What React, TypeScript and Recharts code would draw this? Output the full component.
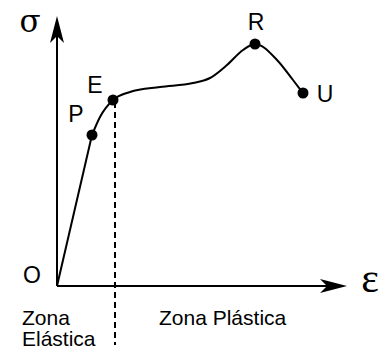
import React from 'react';
import {
  ComposedChart,
  Line,
  Scatter,
  XAxis,
  YAxis,
  ReferenceLine,
  ReferenceDot,
} from 'recharts';

// stress–strain curve, arbitrary units
const elasticSegment = [
  { strain: 0, stress: 0 },
  { strain: 3.5, stress: 15.1 },
];

const plasticSegment = [
  { strain: 3.5, stress: 15.1 },
  { strain: 4.3, stress: 16.9 },
  { strain: 5.6, stress: 18.6 },
  { strain: 7.3, stress: 19.4 },
  { strain: 10.3, stress: 19.9 },
  { strain: 13.6, stress: 20.3 },
  { strain: 15.3, stress: 20.8 },
  { strain: 17.0, stress: 22.1 },
  { strain: 18.6, stress: 23.6 },
  { strain: 19.8, stress: 24.2 },
  { strain: 22.0, stress: 22.6 },
  { strain: 23.6, stress: 20.6 },
  { strain: 24.6, stress: 19.3 },
];

const markers = [
  { name: 'P', strain: 3.5, stress: 15.1 },
  { name: 'E', strain: 5.6, stress: 18.6 },
  { name: 'R', strain: 19.8, stress: 24.2 },
  { name: 'U', strain: 24.6, stress: 19.3 },
];

const elasticLimit = 5.8;
const strainMax = 29;
const stressMax = 27;

// label placement relative to each marker (px)
const markerLabelOffset: Record<string, [number, number]> = {
  P: [-16, -13],
  E: [-18, -7],
  R: [1, -14],
  U: [22, 9],
};

const sans = '"Liberation Sans", Arial, sans-serif';
const serif = '"Liberation Serif", "Times New Roman", serif';

const MarkerShape = (props: any) => {
  const { cx, cy, payload } = props;
  const [dx, dy] = markerLabelOffset[payload.name] || [0, 0];
  return (
    <g>
      <circle cx={cx} cy={cy} r={5.5} fill="#000" />
      <text x={cx + dx} y={cy + dy} textAnchor="middle" fontFamily={sans} fontSize={23} fill="#000">
        {payload.name}
      </text>
    </g>
  );
};

const ArrowRight = (props: any) => {
  const { cx, cy } = props;
  return (
    <g>
      <path d={`M${cx},${cy} L${cx - 27},${cy - 7} L${cx - 20},${cy} L${cx - 27},${cy + 7} Z`} fill="#000" />
      <text x={cx + 23} y={cy + 6} textAnchor="middle" fontFamily={serif} fontSize={42} fill="#000">
        ε
      </text>
    </g>
  );
};

const ArrowUp = (props: any) => {
  const { cx, cy } = props;
  return (
    <g>
      <path d={`M${cx},${cy} L${cx - 7},${cy + 27} L${cx},${cy + 20} L${cx + 7},${cy + 27} Z`} fill="#000" />
      <text x={cx - 27} y={cy + 16} textAnchor="middle" fontFamily='"DejaVu Serif", serif' fontSize={31} fill="#000">
        σ
      </text>
    </g>
  );
};

const textAt = (lines: string[], size: number, anchor: 'start' | 'middle' | 'end' = 'start') => (props: any) => {
  const { cx, cy } = props;
  return (
    <text x={cx} y={cy} textAnchor={anchor} fontFamily={sans} fontSize={size} fill="#000">
      {lines.map((l, i) => (
        <tspan key={i} x={cx} dy={i === 0 ? 0 : 21}>
          {l}
        </tspan>
      ))}
    </text>
  );
};

export default function App() {
  return (
    <div style={{ position: 'fixed', left: 0, top: 0, width: 382, height: 349, background: '#fff' }}>
      <ComposedChart width={382} height={349} margin={{ top: 16, right: 35, bottom: 63, left: 57 }}>
        <XAxis type="number" dataKey="strain" domain={[0, strainMax]} hide />
        <YAxis type="number" dataKey="stress" domain={[0, stressMax]} hide />
        <ReferenceLine
          segment={[
            { x: 0, y: 0 },
            { x: strainMax - 1.5, y: 0 },
          ]}
          stroke="#000"
          strokeWidth={2}
          ifOverflow="visible"
        />
        <ReferenceLine
          segment={[
            { x: 0, y: 0 },
            { x: 0, y: stressMax - 1.5 },
          ]}
          stroke="#000"
          strokeWidth={2}
          ifOverflow="visible"
        />
        <ReferenceLine
          segment={[
            { x: elasticLimit, y: 18.4 },
            { x: elasticLimit, y: -5.9 },
          ]}
          stroke="#000"
          strokeWidth={2}
          strokeDasharray="6 4"
          ifOverflow="visible"
        />
        <Line
          data={elasticSegment}
          dataKey="stress"
          type="linear"
          stroke="#000"
          strokeWidth={2}
          dot={false}
          activeDot={false}
          isAnimationActive={false}
        />
        <Line
          data={plasticSegment}
          dataKey="stress"
          type="monotone"
          stroke="#000"
          strokeWidth={2}
          dot={false}
          activeDot={false}
          isAnimationActive={false}
        />
        <Scatter data={markers} dataKey="stress" shape={MarkerShape} isAnimationActive={false} />
        <ReferenceDot x={strainMax} y={0} ifOverflow="visible" shape={ArrowRight} />
        <ReferenceDot x={0} y={stressMax} ifOverflow="visible" shape={ArrowUp} />
        <ReferenceDot x={-2.5} y={0.3} ifOverflow="visible" shape={textAt(['O'], 23, 'middle')} />
        <ReferenceDot x={-3.5} y={-3.9} ifOverflow="visible" shape={textAt(['Zona', 'Elástica'], 21)} />
        <ReferenceDot x={10.2} y={-3.9} ifOverflow="visible" shape={textAt(['Zona Plástica'], 21)} />
      </ComposedChart>
    </div>
  );
}
